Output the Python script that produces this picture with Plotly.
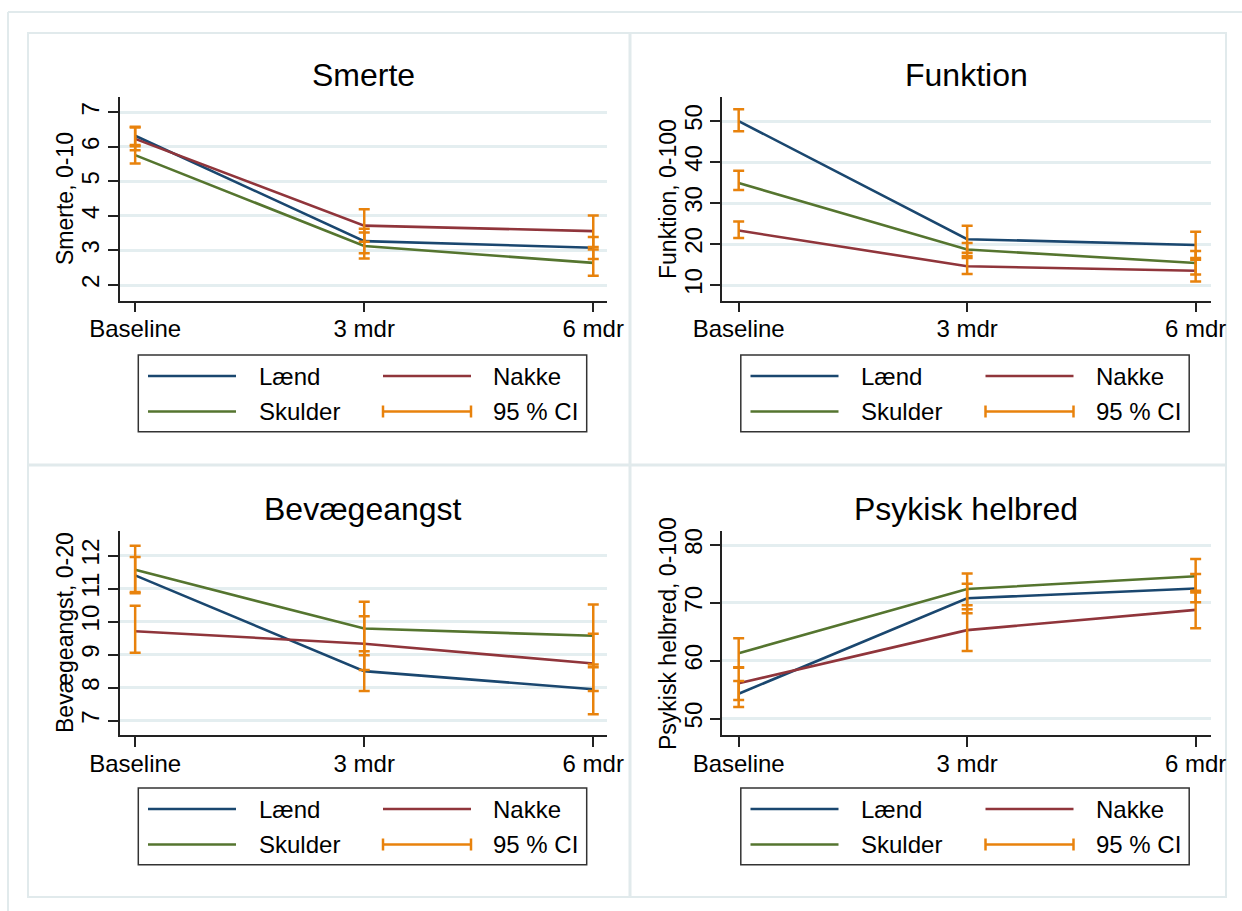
import plotly.graph_objects as go

# ---------------- data ----------------
timepoints = ["Baseline", "3 mdr", "6 mdr"]
groups = ["Lænd", "Nakke", "Skulder"]
panel_titles = ["Smerte", "Funktion", "Bevægeangst", "Psykisk helbred"]
y_titles = ["Smerte, 0-10", "Funktion, 0-100", "Bevægeangst, 0-20", "Psykisk helbred, 0-100"]

# Smerte
smerte_laend = [6.32, 3.27, 3.08]
smerte_laend_lo = [6.05, 2.92, 2.75]
smerte_laend_hi = [6.58, 3.63, 3.39]
smerte_nakke = [6.23, 3.72, 3.56]
smerte_nakke_lo = [5.90, 3.25, 3.10]
smerte_nakke_hi = [6.56, 4.19, 4.01]
smerte_skulder = [5.76, 3.13, 2.64]
smerte_skulder_lo = [5.52, 2.77, 2.27]
smerte_skulder_hi = [6.02, 3.52, 3.03]
smerte_ticks = [2, 3, 4, 5, 6, 7]

# Funktion
funktion_laend = [50.0, 21.2, 19.8]
funktion_laend_lo = [47.5, 17.9, 16.6]
funktion_laend_hi = [52.9, 24.5, 23.0]
funktion_nakke = [23.3, 14.6, 13.5]
funktion_nakke_lo = [21.5, 12.7, 10.9]
funktion_nakke_hi = [25.5, 16.6, 16.2]
funktion_skulder = [34.9, 18.7, 15.4]
funktion_skulder_lo = [33.2, 17.1, 12.6]
funktion_skulder_hi = [37.9, 20.3, 18.3]
funktion_ticks = [10, 20, 30, 40, 50]

# Bevægeangst
bevaeg_laend = [11.40, 8.50, 7.95]
bevaeg_laend_lo = [10.86, 7.90, 7.19]
bevaeg_laend_hi = [11.96, 9.10, 8.70]
bevaeg_nakke = [9.71, 9.33, 8.73]
bevaeg_nakke_lo = [9.06, 8.53, 7.90]
bevaeg_nakke_hi = [10.48, 10.16, 9.63]
bevaeg_skulder = [11.57, 9.79, 9.57]
bevaeg_skulder_lo = [10.90, 8.98, 8.62]
bevaeg_skulder_hi = [12.30, 10.60, 10.52]
bevaeg_ticks = [7, 8, 9, 10, 11, 12]

# Psykisk helbred
psyk_laend = [54.3, 70.8, 72.5]
psyk_laend_lo = [52.0, 68.2, 70.1]
psyk_laend_hi = [56.5, 73.3, 75.0]
psyk_nakke = [56.1, 65.3, 68.8]
psyk_nakke_lo = [53.2, 61.7, 65.6]
psyk_nakke_hi = [58.9, 68.9, 72.1]
psyk_skulder = [61.3, 72.4, 74.6]
psyk_skulder_lo = [58.8, 69.6, 71.8]
psyk_skulder_hi = [63.9, 75.1, 77.6]
psyk_ticks = [50, 60, 70, 80]

panel_data = [
    ([smerte_laend, smerte_nakke, smerte_skulder],
     [smerte_laend_lo, smerte_nakke_lo, smerte_skulder_lo],
     [smerte_laend_hi, smerte_nakke_hi, smerte_skulder_hi], smerte_ticks),
    ([funktion_laend, funktion_nakke, funktion_skulder],
     [funktion_laend_lo, funktion_nakke_lo, funktion_skulder_lo],
     [funktion_laend_hi, funktion_nakke_hi, funktion_skulder_hi], funktion_ticks),
    ([bevaeg_laend, bevaeg_nakke, bevaeg_skulder],
     [bevaeg_laend_lo, bevaeg_nakke_lo, bevaeg_skulder_lo],
     [bevaeg_laend_hi, bevaeg_nakke_hi, bevaeg_skulder_hi], bevaeg_ticks),
    ([psyk_laend, psyk_nakke, psyk_skulder],
     [psyk_laend_lo, psyk_nakke_lo, psyk_skulder_lo],
     [psyk_laend_hi, psyk_nakke_hi, psyk_skulder_hi], psyk_ticks),
]

# ---------------- styling / layout ----------------
W, H = 1242, 911
FONT = "Arial, Liberation Sans, sans-serif"
colors = ["#1a476f", "#90353b", "#55752f"]
ci_color = "#e8820c"
grid_color = "#e4eef0"
frame_color = "#e1eaec"

def px(x):
    return x / W

def py(y):
    return 1 - y / H

# plot regions in pixels (x0, x1, ytop, ybottom), axis ranges, y tick label standoff
regions = [
    (119.6, 607.0, 97.3, 300.7, [-0.068, 2.06], [1.546, 7.434], -1),
    (722.0, 1210.5, 97.3, 300.7, [-0.073, 2.065], [6.2, 55.8], -1),
    (119.6, 607.0, 531.0, 735.0, [-0.068, 2.06], [6.564, 12.746], -1),
    (722.0, 1210.5, 531.0, 735.0, [-0.073, 2.065], [47.17, 82.43], -1),
]
xpos = [0, 1, 2]

fig = go.Figure()
shapes = []
annotations = []

# background frame lines
shapes.append(dict(type="line", xref="paper", yref="paper", x0=px(8), x1=1, y0=py(12), y1=py(12),
                   line=dict(color=frame_color, width=2), layer="below"))
shapes.append(dict(type="line", xref="paper", yref="paper", x0=px(8), x1=px(8), y0=py(12), y1=0,
                   line=dict(color=frame_color, width=2), layer="below"))
shapes.append(dict(type="rect", xref="paper", yref="paper", x0=px(28), x1=px(1226), y0=py(33), y1=py(897),
                   line=dict(color=frame_color, width=2), layer="below"))
shapes.append(dict(type="line", xref="paper", yref="paper", x0=px(630), x1=px(630), y0=py(33), y1=py(897),
                   line=dict(color=frame_color, width=3), layer="below"))
shapes.append(dict(type="line", xref="paper", yref="paper", x0=px(28), x1=px(1226), y0=py(465), y1=py(465),
                   line=dict(color=frame_color, width=3), layer="below"))

layout_axes = {}
for i, (means, los, his, yt) in enumerate(panel_data):
    x0, x1, yt0, yb0, xr, yr, ystand = regions[i]
    n = "" if i == 0 else str(i + 1)
    xa, ya = "x" + n, "y" + n
    for g in range(3):
        fig.add_trace(go.Scatter(x=xpos, y=means[g], mode="lines", xaxis=xa, yaxis=ya,
                                 line=dict(color=colors[g], width=2.6), showlegend=False,
                                 name=groups[g]))
    for g in range(3):
        fig.add_trace(go.Scatter(
            x=xpos, y=means[g], mode="markers", xaxis=xa, yaxis=ya,
            marker=dict(size=1, color="rgba(0,0,0,0)"), showlegend=False,
            error_y=dict(type="data", symmetric=False,
                         array=[h - m for h, m in zip(his[g], means[g])],
                         arrayminus=[m - l for m, l in zip(means[g], los[g])],
                         color=ci_color, thickness=2.5, width=5.5)))
    layout_axes["xaxis" + n] = dict(
        domain=[px(x0), px(x1)], anchor=ya, range=xr, tickvals=xpos, ticktext=timepoints,
        showgrid=False, zeroline=False, showline=True, linecolor="#222", linewidth=1.5,
        ticks="outside", ticklen=10, tickwidth=1.5, tickcolor="#222", automargin=False,
        ticklabelstandoff=-4,
        tickfont=dict(family=FONT, size=24, color="black"), fixedrange=True)
    layout_axes["yaxis" + n] = dict(
        domain=[py(yb0), py(yt0)], anchor=xa, range=yr, tickvals=yt,
        showgrid=True, gridcolor=grid_color, gridwidth=2.5, zeroline=False,
        showline=True, linecolor="#222", linewidth=1.5, automargin=False,
        ticks="outside", ticklen=10, tickwidth=1.5, tickcolor="#222", tickangle=-90,
        ticklabelstandoff=ystand,
        tickfont=dict(family=FONT, size=24, color="black"), fixedrange=True)

    # panel title
    annotations.append(dict(text=panel_titles[i], xref="paper", yref="paper",
                            x=px((x0 + x1) / 2), y=py(yt0 - 22), xanchor="center", yanchor="middle",
                            showarrow=False, font=dict(family=FONT, size=32, color="black")))
    # y axis title
    tx = 65 if i % 2 == 0 else 668
    annotations.append(dict(text=y_titles[i], xref="paper", yref="paper", textangle=-90,
                            x=px(tx), y=py((yt0 + yb0) / 2), xanchor="center", yanchor="middle",
                            showarrow=False, font=dict(family=FONT, size=23, color="black")))

    # legend (drawn box)
    dx = 0 if i % 2 == 0 else 602.5
    dy = 0 if i < 2 else 433
    bx0, bx1, by0, by1 = 138.3 + dx, 586.7 + dx, 355 + dy, 431.7 + dy
    shapes.append(dict(type="rect", xref="paper", yref="paper", x0=px(bx0), x1=px(bx1),
                       y0=py(by0), y1=py(by1), line=dict(color="#333", width=1.5), fillcolor="white"))
    r1, r2 = 376 + dy, 411.5 + dy
    entries = [(groups[0], colors[0], 148 + dx, r1, 256.7 + dx, False),
               (groups[1], colors[1], 383 + dx, r1, 491 + dx, False),
               (groups[2], colors[2], 148 + dx, r2, 256.7 + dx, False),
               ("95 % CI", ci_color, 383 + dx, r2, 491 + dx, True)]
    for label, col, lx, ly, tx2, is_ci in entries:
        shapes.append(dict(type="line", xref="paper", yref="paper", x0=px(lx), x1=px(lx + 88),
                           y0=py(ly), y1=py(ly), line=dict(color=col, width=2.6)))
        if is_ci:
            for cx in (lx, lx + 88):
                shapes.append(dict(type="line", xref="paper", yref="paper", x0=px(cx), x1=px(cx),
                                   y0=py(ly - 6), y1=py(ly + 6), line=dict(color=col, width=2.5)))
        annotations.append(dict(text=label, xref="paper", yref="paper", x=px(tx2), y=py(ly),
                                xanchor="left", yanchor="middle", showarrow=False,
                                font=dict(family=FONT, size=24, color="black")))

fig.update_layout(
    width=W, height=H, margin=dict(l=0, r=0, t=0, b=0, pad=0, autoexpand=False),
    paper_bgcolor="white", plot_bgcolor="white",
    showlegend=False, shapes=shapes, annotations=annotations,
    **layout_axes)

fig.write_html("out.html", config={"displayModeBar": False},
               post_script="document.body.style.margin='0';document.body.style.overflow='hidden';")
